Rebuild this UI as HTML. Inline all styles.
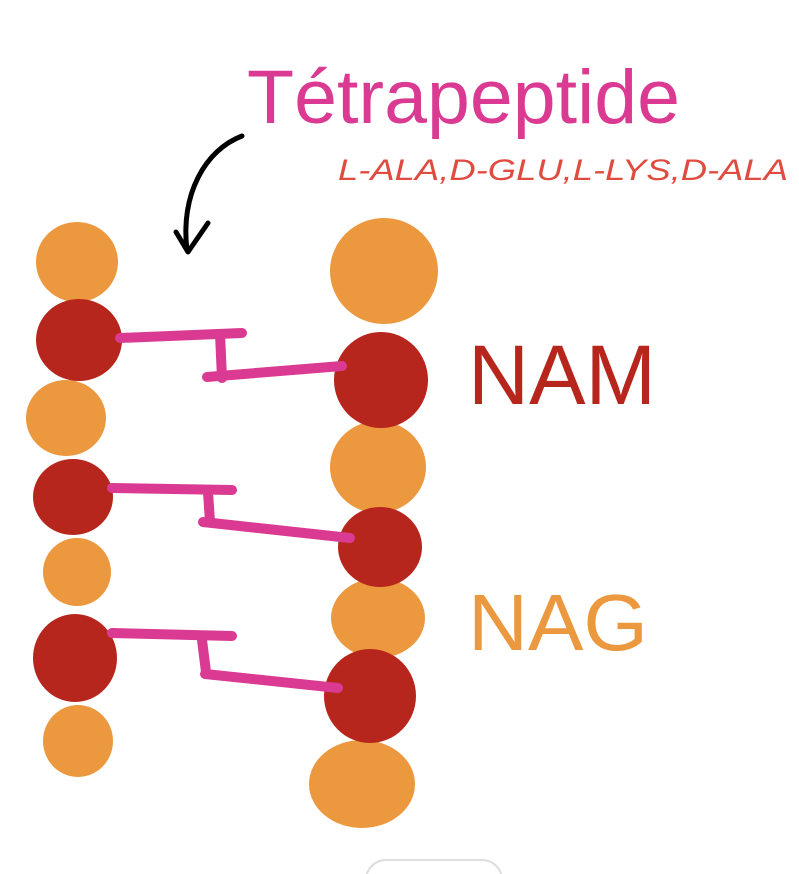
<!DOCTYPE html>
<html><head><style>
html,body{margin:0;padding:0;background:#fff;width:799px;height:874px;overflow:hidden}
</style></head><body>
<svg width="799" height="874" viewBox="0 0 799 874" xmlns="http://www.w3.org/2000/svg">
<g fill="#EB983F">
<ellipse cx="77" cy="262" rx="41" ry="40"/>
<ellipse cx="66" cy="418" rx="40" ry="38"/>
<ellipse cx="77" cy="572" rx="34" ry="34"/>
<ellipse cx="78" cy="741" rx="35" ry="36"/>
<ellipse cx="384" cy="271" rx="54" ry="53"/>
<ellipse cx="378" cy="467" rx="48" ry="46"/>
<ellipse cx="378" cy="618" rx="47" ry="40"/>
<ellipse cx="362" cy="784" rx="53" ry="44"/>
</g>
<g fill="#B7261C">
<ellipse cx="79" cy="340" rx="43" ry="41"/>
<ellipse cx="73" cy="497" rx="40" ry="38"/>
<ellipse cx="75" cy="658" rx="42" ry="44"/>
<ellipse cx="381" cy="380" rx="47" ry="48"/>
<ellipse cx="380" cy="547" rx="42" ry="40"/>
<ellipse cx="370" cy="696" rx="46" ry="47"/>
</g>
<g stroke="#DA3A92" stroke-width="10" stroke-linecap="round" fill="none">
<path d="M120 338 L242 333"/>
<path d="M220 334 L222 378"/>
<path d="M207 377 L342 366"/>
<path d="M112 488 L232 490"/>
<path d="M208 492 L210 522"/>
<path d="M203 522 L350 538"/>
<path d="M112 633 L232 636"/>
<path d="M202 640 L206 672"/>
<path d="M205 674 L338 688"/>
</g>
<path d="M242 136 C205 150 180 195 187 250" stroke="#000" stroke-width="5" fill="none" stroke-linecap="round"/>
<path d="M176 232 L188 252 L208 223" stroke="#000" stroke-width="5" fill="none" stroke-linecap="round" stroke-linejoin="round"/>
<text x="247" y="123" font-family="Liberation Sans, sans-serif" font-size="76" fill="#DA3A92" textLength="433" lengthAdjust="spacingAndGlyphs">Tétrapeptide</text>
<text x="338" y="180" font-family="Liberation Sans, sans-serif" font-size="30" font-style="italic" fill="#E04B3F" textLength="450" lengthAdjust="spacingAndGlyphs">L-ALA,D-GLU,L-LYS,D-ALA</text>
<text x="468" y="404" font-family="Liberation Sans, sans-serif" font-size="84" fill="#B7261C" textLength="188" lengthAdjust="spacingAndGlyphs">NAM</text>
<text x="468" y="650" font-family="Liberation Sans, sans-serif" font-size="80" fill="#EB983F" textLength="180" lengthAdjust="spacingAndGlyphs">NAG</text>
<rect x="366" y="860" width="136" height="40" rx="20" fill="none" stroke="#ddd" stroke-width="2"/>
</svg>
</body></html>
